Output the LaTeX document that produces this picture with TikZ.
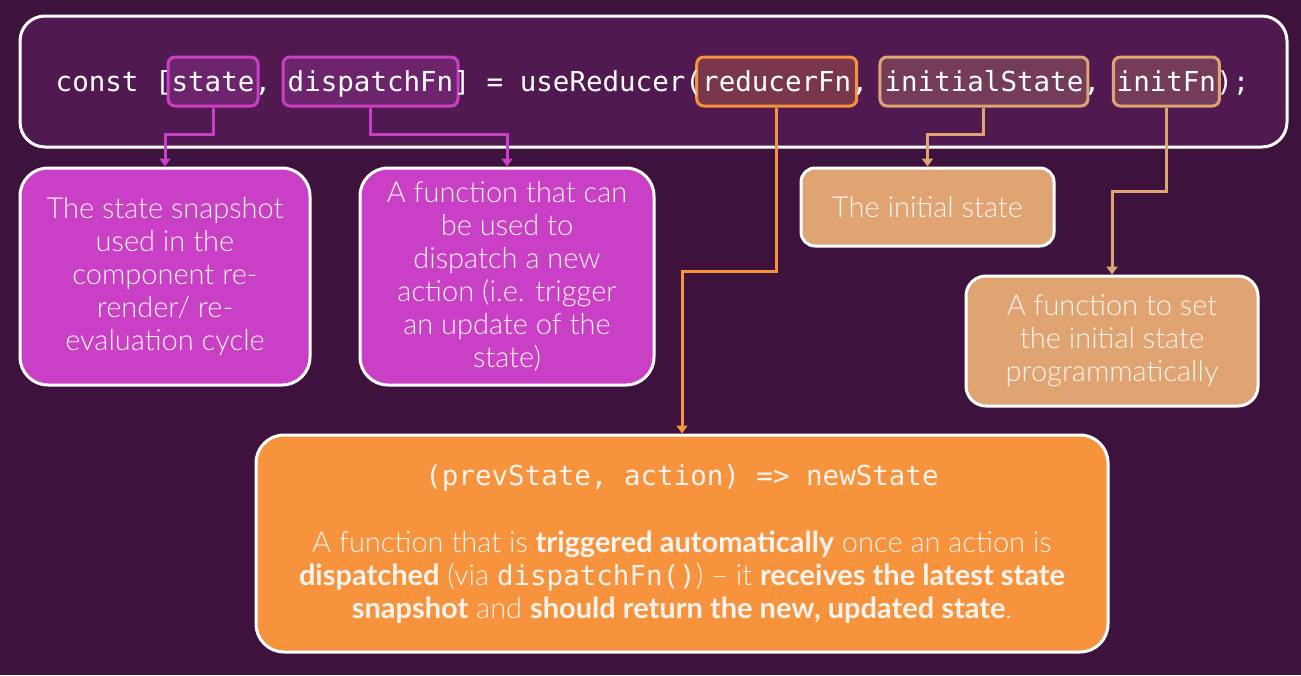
\documentclass[tikz,border=0pt]{standalone}
\usepackage{fontspec}
\setmainfont{Lato}[UprightFont={* Light}, BoldFont={* Bold}]
\newfontfamily\codefont{DejaVu Sans Mono}
\usetikzlibrary{arrows.meta}
\definecolor{bgpurple}{HTML}{3D123D}
\definecolor{toppurple}{HTML}{501950}
\definecolor{magentabox}{HTML}{C940C6}
\definecolor{tanbox}{HTML}{E0A473}
\definecolor{orangebox}{HTML}{F7923D}
\definecolor{textwhite}{HTML}{FFF4EE}

\begin{document}
\begin{tikzpicture}[x=1pt, y=-1pt,
    code/.style={font=\codefont\fontsize{27.5}{33}\selectfont, text=white, text height=22pt, text depth=3pt, inner xsep=0pt, inner ysep=0pt, anchor=west},
    hl/.style={code, anchor=center, draw=#1, fill=#1!25!toppurple, line width=3, rounded corners=7, minimum height=49},
    desc/.style={draw=white, line width=3, fill=#1, rounded corners=28, text=textwhite, align=center, font=\fontsize{29}{33}\selectfont, inner sep=0pt},
    link/.style={draw=#1, line width=3, -{Triangle[width=11pt,length=8pt]}}]
  \fill[bgpurple] (0,0) rectangle (1301,675);
  \useasboundingbox (0,0) rectangle (1301,675);

  % Code line
  \def\cx{55.5}
  \def\cw{16.58}
  \node[draw=white, line width=3, fill=toppurple, rounded corners=25, minimum width=1267, minimum height=131, inner sep=0pt] (codebox) at (653.5,81.5) {};
  \node[hl=magentabox, minimum width=90] (state) at ({\cx+9.5*\cw},81.5) {state};
  \node[hl=magentabox, minimum width=175] (dispatch) at ({\cx+19*\cw},81.5) {dispatchFn};
  \node[hl=orangebox, minimum width=160] (reducer) at ({\cx+43.5*\cw},81.5) {reducerFn};
  \node[hl=tanbox, minimum width=208] (initial) at ({\cx+56*\cw},81.5) {initialState};
  \node[hl=tanbox, minimum width=106] (initfn) at ({\cx+67*\cw},81.5) {initFn};
  \foreach \k/\txt in {0/{const [}, 12/{,}, 24/{] = useReducer(}, 48/{,}, 62/{,}, 70/{);}}
    \node[code] at ({\cx+\k*\cw},81.5) {\txt};

  % Explanation boxes
  \node[desc=magentabox, minimum width=290, minimum height=217] (statebox) at (165,276.5)
    {The state snapshot\\used in the\\component re-\\render/ re-\\evaluation cycle};
  \node[desc=magentabox, minimum width=294, minimum height=217] (dispatchbox) at (507,276.5)
    {A function that can\\be used to\\dispatch a new\\action (i.e. trigger\\an update of the\\state)};
  \node[desc=tanbox, minimum width=253, minimum height=78, rounded corners=14] (initialbox) at (927.5,207)
    {The initial state};
  \node[desc=tanbox, minimum width=292, minimum height=130, rounded corners=20] (initfnbox) at (1112,341)
    {A function to set\\the initial state\\programmatically};
  \node[desc=orangebox, minimum width=852, minimum height=217] (reducerbox) at (682,543.5)
    {{\codefont\fontsize{27.5}{33}\selectfont (prevState, action) => newState}\\[34pt]
     A function that is \textbf{triggered automatically} once an action is\\
     \textbf{dispatched} (via {\codefont\fontsize{27.5}{33}\selectfont dispatchFn()}) -- it \textbf{receives the latest state}\\
     \textbf{snapshot} and \textbf{should return the new, updated state}.};

  % Draw connectors
  \draw[link=magentabox] (state.south) -- ++(0,27) -| (statebox.north);
  \draw[link=magentabox] (dispatch.south) -- ++(0,27) -| (dispatchbox.north);
  \draw[link=orangebox] (reducer.south) -- ++(0,164) -| (reducerbox.north);
  \draw[link=tanbox] (initial.south) -- ++(0,27) -| (initialbox.north);
  \draw[link=tanbox] (initfn.south) -- ++(0,84) -| (initfnbox.north);
\end{tikzpicture}
\end{document}
